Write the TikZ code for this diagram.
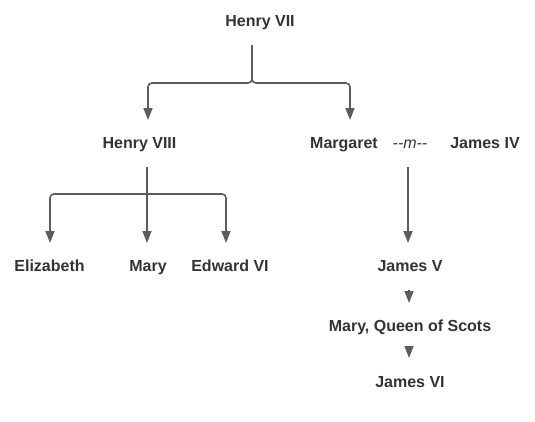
\documentclass[tikz,border=0pt]{standalone}
\usepackage{fontspec}
\setmainfont{Liberation Sans}
\usepackage{xcolor}
\definecolor{ink}{HTML}{333333}
\definecolor{wire}{HTML}{5C5C5C}
\usepackage{tikz}
\usetikzlibrary{positioning}
\usetikzlibrary{arrows.meta}

\begin{document}
\begin{tikzpicture}[x=1pt,y=-1pt,every node/.style={inner sep=0,outer sep=0,text height=12pt,text depth=0pt,text=ink,font=\fontsize{16}{19}\selectfont\bfseries},
	link/.style={draw=wire,line width=1.6pt,rounded corners=4pt,-{Triangle[length=12pt,width=9pt]}}]
	\useasboundingbox (0,0) rectangle (535,421);
	\node (h7) at (260,20) {Henry VII};
	\node (h8) at (139.5,142) {Henry VIII};
	\node (marg) at (344,142) {Margaret};
	\node (wed) at (410,142) [font=\fontsize{16}{19}\selectfont\itshape] {-{}-m-{}-};
	\node (j4) at (485,142) {James IV};
	\node (eliz) at (49.5,265) {Elizabeth};
	\node (mary) at (148,265) {Mary};
	\node (ed6) at (230,265) {Edward VI};
	\node (j5) at (410,265) {James V};
	\node (mqs) [below of=j5, node distance=60pt] {Mary, Queen of Scots};
	\node (j6) [below of=mqs, node distance=56pt] {James VI};
	\coordinate (split) at ([xshift=7.5pt,yshift=-46pt]h8.south);
	% Henry VII to his children
	\draw[link] ([xshift=-8pt,yshift=-19pt]h7.south) -- ++(0,38) -| ([xshift=8.5pt,yshift=16pt]h8.north);
	\draw[link] ([xshift=-8pt,yshift=-19pt]h7.south) -- ++(0,38) -| ([xshift=6pt,yshift=16pt]marg.north);
	% Henry VIII to his children
	\draw[link] ([xshift=7.5pt,yshift=-19pt]h8.south) -- ([xshift=-1pt,yshift=16pt]mary.north);
	\draw[link] (split) -| ([xshift=0.5pt,yshift=16pt]eliz.north);
	\draw[link] (split) -| ([xshift=-4pt,yshift=16pt]ed6.north);
	% the Scottish line
	\draw[link] ([xshift=-2pt,yshift=-19pt]wed.south) -- ([xshift=-2pt,yshift=16pt]j5.north);
	\draw[link] ([xshift=-1pt,yshift=-19pt]j5.south) -- ([xshift=-1pt,yshift=16pt]mqs.north);
	\draw[link] ([xshift=-1pt,yshift=-15pt]mqs.south) -- ([xshift=-1pt,yshift=17pt]j6.north);
\end{tikzpicture}
\end{document}
